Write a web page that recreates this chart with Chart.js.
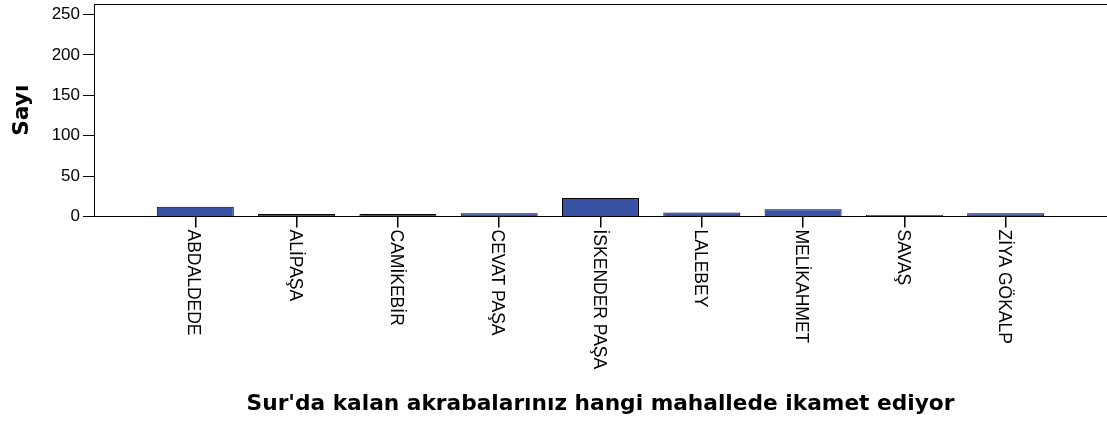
<!DOCTYPE html>
<html><head><meta charset="utf-8">
<script src="https://cdn.jsdelivr.net/npm/chart.js@4.4.1/dist/chart.umd.min.js"></script>
<style>html,body{margin:0;padding:0;background:#fff;overflow:hidden}</style>
</head><body>
<canvas id="c" width="1107" height="423"></canvas>
<script>
const categories = ['ABDALDEDE','ALİPAŞA','CAMİKEBİR','CEVAT PAŞA','İSKENDER PAŞA','LALEBEY','MELİKAHMET','SAVAŞ','ZİYA GÖKALP'];
const counts = [12, 3, 3, 4, 23, 5, 9, 2, 4];
const yTicks = [0, 50, 100, 150, 200, 250];
const yMax = 263;
const yAxisTitle = 'Sayı';
const xAxisTitle = "Sur'da kalan akrabalarınız hangi mahallede ikamet ediyor";

// one empty slot on each side, as in the reference
const labels = ['', ...categories, ''];
const data = [null, ...counts, null];

const rotatedLabels = {
  id: 'rotatedLabels',
  afterDraw(chart) {
    const xs = chart.scales.x;
    const ctx = chart.ctx;
    ctx.save();
    ctx.font = '17.5px "Liberation Sans", Arial, sans-serif';
    ctx.fillStyle = '#000';
    ctx.textAlign = 'left';
    ctx.textBaseline = 'middle';
    categories.forEach((name, i) => {
      const x = xs.getPixelForValue(i + 1);
      ctx.save();
      ctx.translate(x - 2, xs.top + 13);
      ctx.rotate(Math.PI / 2);
      ctx.fillText(name, 0, 0);
      ctx.restore();
    });
    ctx.restore();
  }
};

new Chart(document.getElementById('c'), {
  type: 'bar',
  data: {
    labels: labels,
    datasets: [{
      data: data,
      backgroundColor: '#3953a4',
      borderColor: '#000',
      borderWidth: 1,
      barPercentage: 0.76,
      categoryPercentage: 1
    }]
  },
  options: {
    responsive: false,
    animation: false,
    devicePixelRatio: 1,
    layout: { padding: { top: 4, left: 0, right: 0, bottom: 0 } },
    plugins: { legend: { display: false }, tooltip: { enabled: false } },
    scales: {
      x: {
        type: 'category',
        position: 'bottom',
        offset: false,
        grid: {
          display: true, offset: false, drawOnChartArea: false, drawTicks: true, tickLength: 11, lineWidth: 1.5,
          color: c => (c.index === 0 || c.index === labels.length - 1) ? 'rgba(0,0,0,0)' : '#000'
        },
        border: { display: true, color: '#000', width: 1 },
        ticks: { display: false },
        title: {
          display: true, text: xAxisTitle, color: '#000',
          font: { family: '"DejaVu Sans", sans-serif', size: 21.7, weight: 'bold', lineHeight: 1.2 },
          padding: { top: 0, bottom: 6 }
        },
        afterFit: s => { s.height = 206.5; s.paddingLeft = 0; s.paddingRight = 0; }
      },
      xTop: {
        type: 'category',
        position: 'top',
        offset: false,
        grid: { display: false, drawTicks: false },
        border: { display: true, color: '#000', width: 1 },
        ticks: { display: false }
      },
      y: {
        type: 'linear',
        position: 'left',
        min: 0,
        max: yMax,
        afterBuildTicks: s => { s.ticks = yTicks.map(v => ({ value: v })); },
        grid: { drawOnChartArea: false, drawTicks: true, tickLength: 11, color: '#000' },
        border: { display: true, color: '#000', width: 1 },
        ticks: { font: { family: '"Liberation Sans", Arial, sans-serif', size: 17 }, color: '#000', padding: 3 },
        title: {
          display: true, text: yAxisTitle, color: '#000',
          font: { family: '"DejaVu Sans", sans-serif', size: 21.7, weight: 'bold', lineHeight: 1.2 },
          padding: { top: 9, bottom: 0 }
        },
        afterFit: s => { s.width = 94; s.paddingTop = 0; s.paddingBottom = 0; }
      }
    }
  },
  plugins: [rotatedLabels]
});
</script>
</body></html>
